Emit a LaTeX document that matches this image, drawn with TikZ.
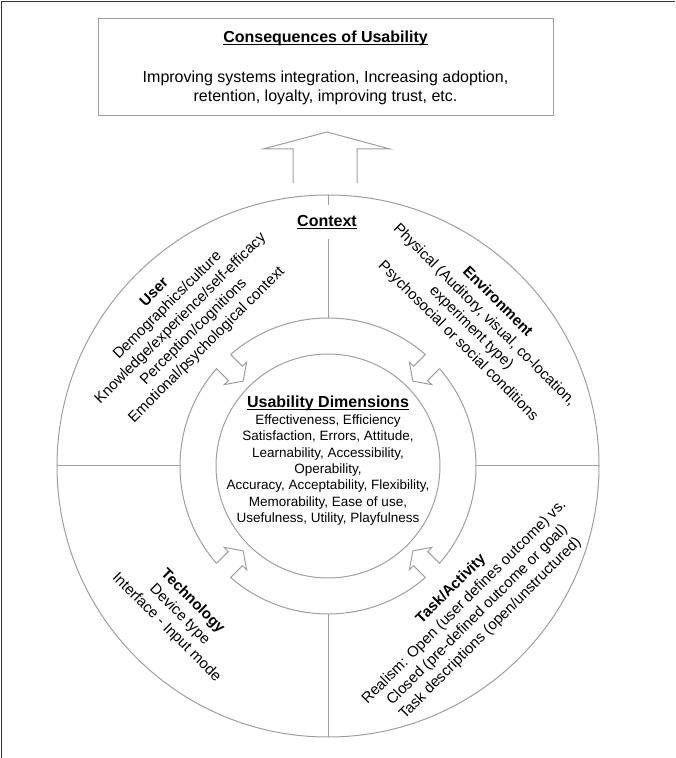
\documentclass[tikz,border=0pt]{standalone}
\usepackage{fontspec}
\setmainfont{Liberation Sans}
\usepackage{tikz}
\usetikzlibrary{positioning}
\definecolor{linegray}{gray}{0.62}
\definecolor{framegray}{gray}{0.2}
\newcommand{\ulhead}[1]{\setbox0\hbox{\textbf{#1}}\rlap{\rule[-2.6pt]{\wd0}{1.1pt}}\box0}

\begin{document}
\begin{tikzpicture}[x=1pt,y=1pt,
  ringline/.style={draw=linegray, line width=1pt},
  headtxt/.style={font=\fontsize{16}{19}\selectfont},
  ringtxt/.style={font=\fontsize{15}{18.5}\selectfont, align=center, inner sep=0pt},
  coretxt/.style={font=\fontsize{13.5}{16.3}\selectfont, align=center, inner sep=0pt}]
\useasboundingbox (0,0) rectangle (675,758);

\draw[framegray, line width=1.5pt] (1.5,0) -- (1.5,756.5) -- (675,756.5);

% consequences box
\node[ringline, minimum width=455pt, minimum height=97pt, inner sep=0pt] (box) at (325.5,690.5) {};
\node[headtxt] (boxtitle) at (325.5,720) {\ulhead{Consequences of Usability}};
\node[headtxt, align=center] (boxtext) at (325.5,670.5) {Improving systems integration, Increasing adoption,\\ retention, loyalty, improving trust, etc.};

% open arrow up to the box
\draw[ringline] (293,575) -- (293,609) -- (263,609) -- (327,626) -- (390,609) -- (357,609) -- (357,575);

% rings
\coordinate (c) at (328,292);
\draw[ringline] (c) circle (271);
\draw[ringline] (c) circle (112);
\foreach \a in {0,90,180,270}
  \draw[ringline] (c) ++(\a:148) -- ++(\a:123);
\foreach \a in {45,135,225,315}
  \draw[ringline, shift={(c)}, rotate=\a] (147.66,-10) -- (131,-10) -- (131,-16) -- (120,0) -- (131,16) -- (131,10) -- (147.66,10) arc[start angle=3.87, end angle=86.13, radius=148];

\node[headtxt, fill=white, inner xsep=3pt, minimum height=34pt] (context) at (327,536) {\ulhead{Context}};

% usability dimensions
\node[headtxt] (coretitle) at (328,355) {\ulhead{Usability Dimensions}};
\node[coretxt] (core) at (328,288) {Effectiveness, Efficiency\\ Satisfaction, Errors, Attitude,\\ Learnability, Accessibility,\\ Operability,\\ Accuracy, Acceptability, Flexibility,\\ Memorability, Ease of use,\\ Usefulness, Utility, Playfulness};

% context quadrants
\path (c) ++(135:208) node[ringtxt, rotate=45] (user) {\textbf{User}\\ Demographics/culture\\ Knowledge/experience/self-efficacy\\ Perception/cognitions\\ Emotional/psychological context};
\path (c) ++(44:208) node[ringtxt, rotate=-45] (environment) {\textbf{Environment}\\ Physical (Auditory, visual, co-location,\\ experiment type)\\ Psychosocial or social conditions};
\path (c) ++(225:210) node[ringtxt, rotate=-45] (technology) {\textbf{Technology}\\ Device type\\ Interface - Input mode};
\path (c) ++(315:202) node[ringtxt, rotate=45] (task) {\textbf{Task/Activity}\\ Realism: Open (user defines outcome) vs.\\ Closed (pre-defined outcome or goal)\\ Task descriptions (open/unstructured)};

\end{tikzpicture}
\end{document}
